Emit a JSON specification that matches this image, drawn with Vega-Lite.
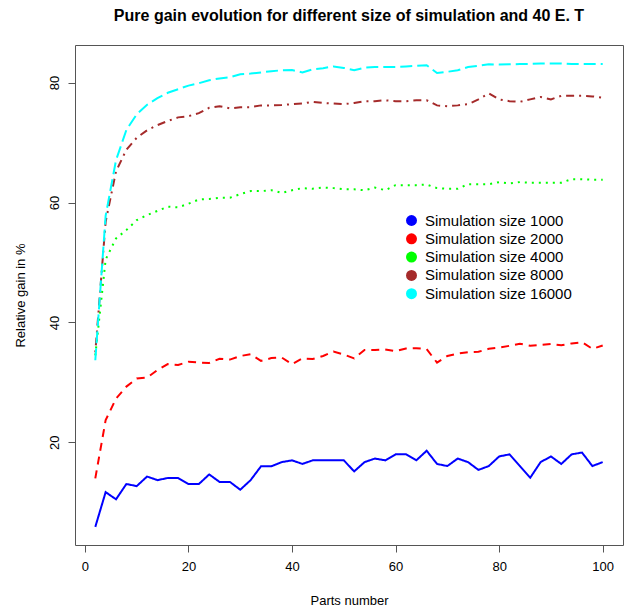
{
  "$schema": "https://vega.github.io/schema/vega-lite/v6.json",
  "width": 548,
  "height": 500,
  "autosize": {"type": "none"},
  "padding": {"left": 75, "top": 45, "right": 2, "bottom": 65},
  "background": "white",
  "config": {
    "font": "Liberation Sans",
    "view": {"stroke": "#555", "strokeWidth": 1}
  },
  "title": {
    "text": "Pure gain evolution for different size of simulation and 40 E. T",
    "font": "Liberation Sans",
    "fontSize": 16,
    "fontWeight": "bold",
    "color": "#000",
    "anchor": "middle",
    "offset": 21
  },
  "data": {
    "values": [
      {"x": 2, "Simulation size 1000": 5.9, "Simulation size 2000": 14.0, "Simulation size 4000": 34.5, "Simulation size 8000": 35.0, "Simulation size 16000": 33.7},
      {"x": 4, "Simulation size 1000": 11.7, "Simulation size 2000": 23.7, "Simulation size 4000": 50.5, "Simulation size 8000": 56.8, "Simulation size 16000": 57.8},
      {"x": 6, "Simulation size 1000": 10.5, "Simulation size 2000": 27.3, "Simulation size 4000": 54.0, "Simulation size 8000": 65.2, "Simulation size 16000": 67.05},
      {"x": 8, "Simulation size 1000": 13.05, "Simulation size 2000": 29.3, "Simulation size 4000": 55.4, "Simulation size 8000": 68.8, "Simulation size 16000": 72.1},
      {"x": 10, "Simulation size 1000": 12.7, "Simulation size 2000": 30.65, "Simulation size 4000": 57.05, "Simulation size 8000": 70.8, "Simulation size 16000": 74.7},
      {"x": 12, "Simulation size 1000": 14.3, "Simulation size 2000": 30.8, "Simulation size 4000": 57.9, "Simulation size 8000": 72.05, "Simulation size 16000": 76.3},
      {"x": 14, "Simulation size 1000": 13.7, "Simulation size 2000": 32.05, "Simulation size 4000": 58.6, "Simulation size 8000": 72.9, "Simulation size 16000": 77.4},
      {"x": 16, "Simulation size 1000": 14.05, "Simulation size 2000": 33.05, "Simulation size 4000": 59.3, "Simulation size 8000": 73.6, "Simulation size 16000": 78.3},
      {"x": 18, "Simulation size 1000": 14.05, "Simulation size 2000": 32.9, "Simulation size 4000": 59.2, "Simulation size 8000": 74.2, "Simulation size 16000": 78.9},
      {"x": 20, "Simulation size 1000": 13.05, "Simulation size 2000": 33.45, "Simulation size 4000": 59.8, "Simulation size 8000": 74.4, "Simulation size 16000": 79.5},
      {"x": 22, "Simulation size 1000": 13.05, "Simulation size 2000": 33.3, "Simulation size 4000": 60.5, "Simulation size 8000": 74.9, "Simulation size 16000": 79.9},
      {"x": 24, "Simulation size 1000": 14.65, "Simulation size 2000": 33.25, "Simulation size 4000": 60.6, "Simulation size 8000": 75.8, "Simulation size 16000": 80.4},
      {"x": 26, "Simulation size 1000": 13.4, "Simulation size 2000": 33.95, "Simulation size 4000": 60.8, "Simulation size 8000": 76.05, "Simulation size 16000": 80.7},
      {"x": 28, "Simulation size 1000": 13.4, "Simulation size 2000": 33.8, "Simulation size 4000": 60.8, "Simulation size 8000": 75.7, "Simulation size 16000": 80.9},
      {"x": 30, "Simulation size 1000": 12.1, "Simulation size 2000": 34.4, "Simulation size 4000": 61.4, "Simulation size 8000": 75.9, "Simulation size 16000": 81.4},
      {"x": 32, "Simulation size 1000": 13.7, "Simulation size 2000": 34.7, "Simulation size 4000": 61.9, "Simulation size 8000": 75.9, "Simulation size 16000": 81.5},
      {"x": 34, "Simulation size 1000": 16.0, "Simulation size 2000": 33.6, "Simulation size 4000": 61.9, "Simulation size 8000": 76.2, "Simulation size 16000": 81.7},
      {"x": 36, "Simulation size 1000": 16.0, "Simulation size 2000": 34.05, "Simulation size 4000": 62.05, "Simulation size 8000": 76.2, "Simulation size 16000": 81.9},
      {"x": 38, "Simulation size 1000": 16.7, "Simulation size 2000": 34.15, "Simulation size 4000": 61.6, "Simulation size 8000": 76.25, "Simulation size 16000": 82.05},
      {"x": 40, "Simulation size 1000": 17.0, "Simulation size 2000": 33.05, "Simulation size 4000": 62.05, "Simulation size 8000": 76.4, "Simulation size 16000": 82.1},
      {"x": 42, "Simulation size 1000": 16.4, "Simulation size 2000": 34.0, "Simulation size 4000": 62.4, "Simulation size 8000": 76.5, "Simulation size 16000": 81.7},
      {"x": 44, "Simulation size 1000": 17.0, "Simulation size 2000": 33.9, "Simulation size 4000": 62.3, "Simulation size 8000": 76.8, "Simulation size 16000": 82.2},
      {"x": 46, "Simulation size 1000": 17.0, "Simulation size 2000": 34.4, "Simulation size 4000": 62.5, "Simulation size 8000": 76.6, "Simulation size 16000": 82.4},
      {"x": 48, "Simulation size 1000": 17.0, "Simulation size 2000": 35.15, "Simulation size 4000": 62.4, "Simulation size 8000": 76.5, "Simulation size 16000": 82.7},
      {"x": 50, "Simulation size 1000": 17.0, "Simulation size 2000": 34.65, "Simulation size 4000": 62.2, "Simulation size 8000": 76.4, "Simulation size 16000": 82.45},
      {"x": 52, "Simulation size 1000": 15.15, "Simulation size 2000": 34.0, "Simulation size 4000": 62.2, "Simulation size 8000": 76.6, "Simulation size 16000": 82.05},
      {"x": 54, "Simulation size 1000": 16.7, "Simulation size 2000": 35.4, "Simulation size 4000": 62.05, "Simulation size 8000": 76.9, "Simulation size 16000": 82.5},
      {"x": 56, "Simulation size 1000": 17.3, "Simulation size 2000": 35.4, "Simulation size 4000": 62.5, "Simulation size 8000": 76.9, "Simulation size 16000": 82.6},
      {"x": 58, "Simulation size 1000": 17.0, "Simulation size 2000": 35.5, "Simulation size 4000": 62.05, "Simulation size 8000": 77.05, "Simulation size 16000": 82.6},
      {"x": 60, "Simulation size 1000": 18.0, "Simulation size 2000": 35.2, "Simulation size 4000": 62.9, "Simulation size 8000": 76.9, "Simulation size 16000": 82.6},
      {"x": 62, "Simulation size 1000": 18.0, "Simulation size 2000": 35.65, "Simulation size 4000": 62.9, "Simulation size 8000": 76.9, "Simulation size 16000": 82.7},
      {"x": 64, "Simulation size 1000": 17.0, "Simulation size 2000": 35.7, "Simulation size 4000": 62.9, "Simulation size 8000": 77.05, "Simulation size 16000": 82.8},
      {"x": 66, "Simulation size 1000": 18.6, "Simulation size 2000": 35.55, "Simulation size 4000": 63.0, "Simulation size 8000": 77.05, "Simulation size 16000": 82.9},
      {"x": 68, "Simulation size 1000": 16.4, "Simulation size 2000": 33.3, "Simulation size 4000": 62.4, "Simulation size 8000": 76.2, "Simulation size 16000": 81.6},
      {"x": 70, "Simulation size 1000": 16.05, "Simulation size 2000": 34.4, "Simulation size 4000": 62.3, "Simulation size 8000": 76.05, "Simulation size 16000": 81.8},
      {"x": 72, "Simulation size 1000": 17.3, "Simulation size 2000": 34.8, "Simulation size 4000": 62.3, "Simulation size 8000": 76.2, "Simulation size 16000": 82.05},
      {"x": 74, "Simulation size 1000": 16.7, "Simulation size 2000": 35.05, "Simulation size 4000": 63.05, "Simulation size 8000": 76.4, "Simulation size 16000": 82.6},
      {"x": 76, "Simulation size 1000": 15.4, "Simulation size 2000": 35.1, "Simulation size 4000": 63.05, "Simulation size 8000": 77.2, "Simulation size 16000": 82.8},
      {"x": 78, "Simulation size 1000": 16.05, "Simulation size 2000": 35.6, "Simulation size 4000": 63.05, "Simulation size 8000": 78.2, "Simulation size 16000": 83.05},
      {"x": 80, "Simulation size 1000": 17.65, "Simulation size 2000": 35.8, "Simulation size 4000": 63.4, "Simulation size 8000": 77.2, "Simulation size 16000": 83.0},
      {"x": 82, "Simulation size 1000": 18.0, "Simulation size 2000": 36.1, "Simulation size 4000": 63.2, "Simulation size 8000": 76.9, "Simulation size 16000": 83.05},
      {"x": 84, "Simulation size 1000": 16.05, "Simulation size 2000": 36.45, "Simulation size 4000": 63.4, "Simulation size 8000": 76.8, "Simulation size 16000": 83.1},
      {"x": 86, "Simulation size 1000": 14.1, "Simulation size 2000": 36.1, "Simulation size 4000": 63.3, "Simulation size 8000": 77.2, "Simulation size 16000": 83.1},
      {"x": 88, "Simulation size 1000": 16.7, "Simulation size 2000": 36.25, "Simulation size 4000": 63.3, "Simulation size 8000": 77.6, "Simulation size 16000": 83.2},
      {"x": 90, "Simulation size 1000": 17.65, "Simulation size 2000": 36.4, "Simulation size 4000": 63.3, "Simulation size 8000": 77.2, "Simulation size 16000": 83.2},
      {"x": 92, "Simulation size 1000": 16.4, "Simulation size 2000": 36.2, "Simulation size 4000": 63.3, "Simulation size 8000": 77.8, "Simulation size 16000": 83.2},
      {"x": 94, "Simulation size 1000": 18.0, "Simulation size 2000": 36.5, "Simulation size 4000": 63.9, "Simulation size 8000": 77.8, "Simulation size 16000": 83.1},
      {"x": 96, "Simulation size 1000": 18.3, "Simulation size 2000": 36.7, "Simulation size 4000": 63.9, "Simulation size 8000": 77.8, "Simulation size 16000": 83.1},
      {"x": 98, "Simulation size 1000": 16.05, "Simulation size 2000": 35.6, "Simulation size 4000": 63.8, "Simulation size 8000": 77.7, "Simulation size 16000": 83.1},
      {"x": 100, "Simulation size 1000": 16.7, "Simulation size 2000": 36.15, "Simulation size 4000": 63.8, "Simulation size 8000": 77.5, "Simulation size 16000": 83.1}
    ]
  },
  "transform": [
    {"fold": ["Simulation size 1000", "Simulation size 2000", "Simulation size 4000", "Simulation size 8000", "Simulation size 16000"], "as": ["series", "gain"]}
  ],
  "mark": {"type": "line", "strokeWidth": 2, "clip": true},
  "encoding": {
    "x": {
      "field": "x", "type": "quantitative",
      "scale": {"domain": [-1.92, 103.92], "nice": false, "zero": false},
      "axis": {
        "values": [0, 20, 40, 60, 80, 100],
        "title": "Parts number",
        "grid": false, "domain": false,
        "tickSize": 7, "tickColor": "#555",
        "labelFont": "Liberation Sans", "labelFontSize": 13, "labelColor": "#000",
        "labelPadding": 8,
        "titleFont": "Liberation Sans", "titleFontSize": 13, "titleFontWeight": "normal", "titleColor": "#000",
        "titlePadding": 21
      }
    },
    "y": {
      "field": "gain", "type": "quantitative",
      "scale": {"domain": [2.88, 86.27], "nice": false, "zero": false},
      "axis": {
        "values": [20, 40, 60, 80],
        "title": "Relative gain in %",
        "grid": false, "domain": false,
        "tickSize": 7, "tickColor": "#555",
        "labelAngle": -90, "labelAlign": "center", "labelBaseline": "bottom",
        "labelFont": "Liberation Sans", "labelFontSize": 13, "labelColor": "#000",
        "labelPadding": 7,
        "titleFont": "Liberation Sans", "titleFontSize": 13, "titleFontWeight": "normal", "titleColor": "#000",
        "titlePadding": 21
      }
    },
    "color": {
      "field": "series", "type": "nominal",
      "scale": {
        "domain": ["Simulation size 1000", "Simulation size 2000", "Simulation size 4000", "Simulation size 8000", "Simulation size 16000"],
        "range": ["#0000FF", "#FF0000", "#00FF00", "#A52A2A", "#00FFFF"]
      },
      "legend": {
        "title": null,
        "orient": "none",
        "legendX": 329,
        "legendY": 168,
        "padding": 0,
        "symbolType": "circle",
        "symbolSize": 120,
        "symbolStrokeWidth": 0,
        "labelFont": "Liberation Sans",
        "labelFontSize": 15,
        "labelColor": "#000",
        "labelOffset": 6,
        "rowPadding": 2.3,
        "encode": {"symbols": {"update": {"fill": {"scale": "color", "field": "value"}, "fillOpacity": {"value": 1}}}}
      }
    },
    "strokeDash": {
      "field": "series", "type": "nominal",
      "scale": {
        "domain": ["Simulation size 1000", "Simulation size 2000", "Simulation size 4000", "Simulation size 8000", "Simulation size 16000"],
        "range": [[1, 0], [8, 6], [2, 5], [2, 5, 8, 5], [12, 5]]
      },
      "legend": null
    }
  }
}
